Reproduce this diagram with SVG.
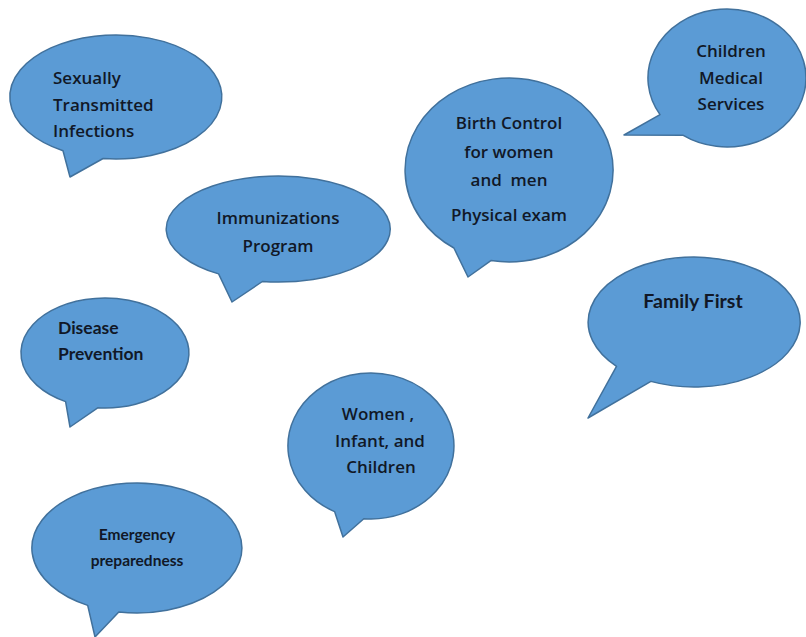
<svg xmlns="http://www.w3.org/2000/svg" width="806" height="637" viewBox="0 0 806 637">
<style>
.b{fill:#5b9bd5;stroke:#41719c;stroke-width:1.5;stroke-linejoin:round}
.c{font-family:"Open Sans","Noto Sans",sans-serif;font-weight:600;font-size:17px;fill:#111827}
.k{font-family:Lato,"Open Sans",sans-serif;font-weight:700;fill:#111827}
.m{text-anchor:middle}
</style>
<rect width="806" height="637" fill="#ffffff"/>
<g id="connectors"></g>
<g id="sti">
<path class="b" d="M63,150.7 A106,62 0 1 1 103.1,158.5 L70,177 Z"/>
<text class="c" x="53" y="84">Sexually</text>
<text class="c" x="53" y="111">Transmitted</text>
<text class="c" x="53" y="137">Infections</text>
</g>
<g id="immunizations">
<path class="b" d="M218.6,273.9 A112,53 0 1 1 262.4,281.5 L232,302 Z"/>
<text class="c m" x="278" y="224">Immunizations</text>
<text class="c m" x="278" y="252">Program</text>
</g>
<g id="birth-control">
<path class="b" d="M453.9,248 A104,92 0 1 1 490.9,260.6 L468,277 Z"/>
<text class="c m" x="509" y="129">Birth Control</text>
<text class="c m" x="509" y="158">for women</text>
<text class="c m" x="509" y="186">and&#160; men</text>
<text class="c m" x="509" y="221">Physical exam</text>
</g>
<g id="children-medical">
<path class="b" d="M660,114.6 A79,69 0 1 1 682.8,135.2 L624,135 Z"/>
<text class="c m" x="731" y="57">Children</text>
<text class="c m" x="731" y="84">Medical</text>
<text class="c m" x="731" y="110">Services</text>
</g>
<g id="family-first">
<path class="b" d="M616.5,366.3 A106,65 0 1 1 650.9,381.4 L588,418 Z"/>
<text class="k m" x="693" y="308" font-size="19.5">Family First</text>
</g>
<g id="disease-prevention">
<path class="b" d="M65.6,401.6 A84,55 0 1 1 97.7,407.8 L70,427 Z"/>
<text class="k" x="58" y="334" font-size="17.5">Disease</text>
<text class="k" x="58" y="360" font-size="17.5">Prevention</text>
</g>
<g id="wic">
<path class="b" d="M334.6,511.6 A83,73 0 1 1 363.8,518.7 L343,537 Z"/>
<text class="c m" x="378" y="420">Women ,</text>
<text class="c m" x="380" y="447">Infant, and</text>
<text class="c m" x="381" y="473">Children</text>
</g>
<g id="emergency">
<path class="b" d="M87.7,605.4 A105,65 0 1 1 118.8,612 L95,637 Z"/>
<text class="k m" x="137" y="540" font-size="15.5">Emergency</text>
<text class="k m" x="137" y="566" font-size="15.5">preparedness</text>
</g>
</svg>
